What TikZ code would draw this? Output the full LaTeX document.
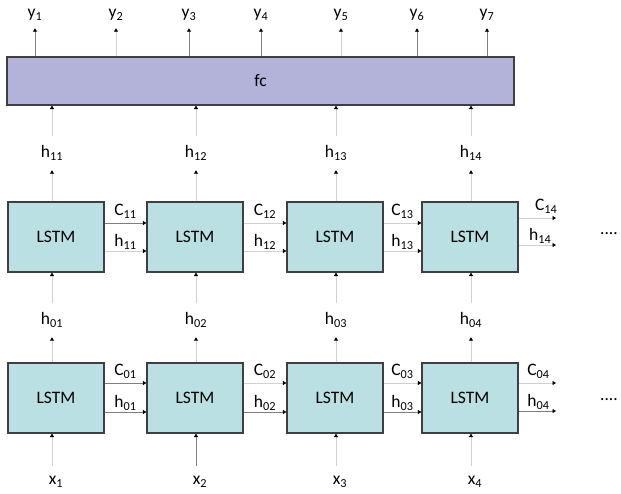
\documentclass[tikz,border=0pt]{standalone}
\usepackage{fontspec}
\setmainfont{Carlito}
\usepackage{tikz}
\usetikzlibrary{arrows.meta,calc,positioning}
\definecolor{lstmfill}{HTML}{BAE0E3}
\definecolor{fcfill}{HTML}{B3B3D9}
\definecolor{boxline}{HTML}{3F3F3F}
\definecolor{lightline}{HTML}{D0D0D0}
\definecolor{darkline}{HTML}{7F7F7F}
\tikzset{cell/.style={
    draw=boxline, fill=lstmfill,
    line width=1.2pt,
    minimum width=96pt,
    minimum height=70pt,
    inner sep=0pt
  },
  fcbox/.style={draw=boxline, fill=fcfill, line width=1.2pt,
    minimum width=507pt, minimum height=48pt},
  vlabel/.style={inner sep=0pt, minimum height=#1},
  vlabel/.default=34pt,
  clabel/.style={text=black, above=1pt},
  hlabel/.style={text=black, above, inner sep=1pt},
  flow/.style={line width=1pt, -{Triangle[length=3.5pt,width=4pt,black]}}
}

\begin{document}
\begin{tikzpicture}[x=1pt, y=-1pt, font=\fontsize{17.5}{21}\selectfont]
    \useasboundingbox (0,0) rectangle (621,493);
    \node[fcbox] (fc) at (260.5,81) {fc};
    % outputs of fc
    \foreach \i/\x/\c in {1/35/darkline, 2/116/lightline, 3/189/darkline, 4/261/darkline,
                          5/341/lightline, 6/417/darkline, 7/487/darkline} {
        \node[vlabel=26pt] (y\i) at (\x,15) {y\textsubscript{\i}};
        \draw[flow, \c] (y\i |- fc.north) -- (y\i.south);
    }
    % two LSTM layers
    \foreach \i/\x/\hx/\c in {1/56/52/lightline, 2/195/196/darkline, 3/335/336/lightline, 4/470/471/lightline} {
        \node[cell] (top\i) at (\x,237) {LSTM};
        \node[cell] (bot\i) at (\x,398) {LSTM};
        \node[vlabel] (h1\i) at (\hx,153) {h\textsubscript{1\i}};
        \node[vlabel] (h0\i) at (\hx,320) {h\textsubscript{0\i}};
        \node[vlabel=32pt] (x\i) at (\hx+4,482) {x\textsubscript{\i}};
        \draw[flow, lightline] (h1\i.north) -- (h1\i |- fc.south);
        \draw[flow, lightline] (top\i.north -| h1\i) -- (h1\i.south);
        \draw[flow, lightline] (h0\i.north) -- (h0\i |- top\i.south);
        \draw[flow, lightline] (bot\i.north -| h0\i) -- (h0\i.south);
        \draw[flow, \c] (x\i.north -| h0\i) -- (h0\i |- bot\i.south);
    }
    % states passed along
    \foreach \i/\j/\ca/\ha/\cb in {1/2/darkline/lightline/darkline, 2/3/lightline/lightline/lightline,
                                   3/4/lightline/lightline/lightline} {
        \draw[flow, \ca] ([yshift=14pt]top\i.east) -- node[clabel] {C\textsubscript{1\i}} ([yshift=14pt]top\j.west);
        \draw[flow, \ha] ([yshift=-14pt]top\i.east) -- node[hlabel] {h\textsubscript{1\i}} ([yshift=-14pt]top\j.west);
        \draw[flow, \cb] ([yshift=15pt]bot\i.east) -- node[clabel] {C\textsubscript{0\i}} ([yshift=15pt]bot\j.west);
        \draw[flow, darkline] ([yshift=-14pt]bot\i.east) -- node[hlabel] {h\textsubscript{0\i}} ([yshift=-14pt]bot\j.west);
    }
    \coordinate (c1out) at (556,218);
    \coordinate (h1out) at (556,245);
    \coordinate (c0out) at (556,383);
    \coordinate (h0out) at (556,411);
    \draw[flow, lightline] (top4.east |- c1out) -- node[pos=0.74, clabel] {C\textsubscript{14}} (c1out);
    \draw[flow, lightline] (top4.east |- h1out) -- node[pos=0.58, hlabel] {h\textsubscript{14}} (h1out);
    \draw[flow, lightline] (bot4.east |- c0out) -- node[pos=0.53, clabel] {C\textsubscript{04}} (c0out);
    \draw[flow, darkline] (bot4.east |- h0out) -- node[pos=0.53, hlabel] {h\textsubscript{04}} (h0out);
    \node[inner sep=0pt] (more1) at (609,234) {....};
    \node[inner sep=0pt] (more0) at (609,400) {....};
\end{tikzpicture}
\end{document}
